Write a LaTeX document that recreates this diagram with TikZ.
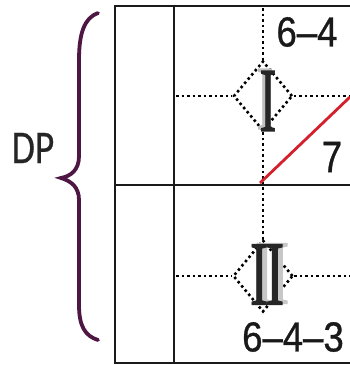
\documentclass[tikz,border=0pt]{standalone}
\usepackage{fontspec}
\setmainfont{Liberation Serif}
\newfontfamily\romanfont[FakeBold=1.2]{Liberation Serif}
\newfontfamily\numfont[FakeBold=0.8]{Liberation Sans}
\newfontfamily\dpfont[FakeBold=0.6]{Carlito}
\usetikzlibrary{shapes.geometric}
\definecolor{frameink}{HTML}{1A1A1A}
\definecolor{bracecol}{HTML}{4E1743}
\definecolor{redline}{HTML}{D4202C}
\tikzset{
  frameline/.style={draw=frameink, line width=2.4pt},
  dotline/.style={draw=black, line width=2.6pt, dash pattern=on 2.5pt off 3pt},
  diamondbox/.style={shape=diamond, draw=black, line width=2.6pt, dash pattern=on 2.5pt off 3pt, inner sep=0pt},
  numlabel/.style={inner sep=0pt, font=\numfont\fontsize{42}{42}\selectfont, text=black!90},
  romanlabel/.style={inner sep=0pt, font=\romanfont\fontsize{88}{88}\selectfont},
}
\begin{document}
\begin{tikzpicture}[x=1pt,y=-1pt]
\useasboundingbox[fill=white] (0,0) rectangle (350,365);
% frame coordinates
\coordinate (tl) at (115,6);
\coordinate (tm) at (174,6);
\coordinate (tr) at (350,6);
\coordinate (ml) at (115,185);
\coordinate (mr) at (350,185);
\coordinate (bl) at (115,363);
\coordinate (bm) at (174,363);
\coordinate (br) at (350,363);
\draw[frameline] (tr) -- (tl) -- (bl) -- (br);
\draw[frameline] (ml) -- (mr);
\draw[frameline] (tm) -- (bm);
% diamonds
\node[diamondbox, minimum width=59pt, minimum height=70pt] (d1) at (263,96) {};
\node[diamondbox, minimum width=60pt, minimum height=72pt] (d2) at (263,276) {};
% dotted guide lines
\coordinate (vt) at (263,8);
\coordinate (vm) at (263,184);
\coordinate (vm2) at (263,187);
\coordinate (h1l) at (176,96);
\coordinate (h1r) at (350,96);
\coordinate (h2l) at (176,276);
\coordinate (h2r) at (350,276);
\draw[dotline] (vt) -- (d1.north);
\draw[dotline] (d1.south) -- (vm);
\draw[dotline] (h1l) -- (d1.west);
\draw[dotline] (d1.east) -- (h1r);
\draw[dotline] (vm2) -- (d2.north);
\draw[dotline] (h2l) -- (d2.west);
\draw[dotline] (d2.east) -- (h2r);
% red line
\coordinate (rs) at (260,183);
\coordinate (re) at (350,97);
\draw[redline, line width=2.8pt] (rs) -- (re);
% roman numerals
\node[romanlabel, text=black!85] (r1) at (268,100)
  {\rlap{\hspace{-3pt}\raisebox{2pt}{\color{black!25}\scalebox{0.57}[1.04]{I}}}\scalebox{0.57}[1.04]{I}};
\node[romanlabel, text=black!85] (r2) at (267,274)
  {\rlap{\hspace{5pt}\raisebox{1pt}{\color{black!22}\scalebox{0.64}[1.04]{I\kern-5pt I}}}\scalebox{0.64}[1.04]{I\kern-5pt I}};
% numbers
\node[numlabel] (n64) at (307,32) {\scalebox{0.87}[1]{6–4}};
\node[numlabel] (n7) at (332,157) {\scalebox{0.87}[1.05]{7}};
\node[numlabel] (n643) at (293,337) {\scalebox{0.87}[1]{6–4–3}};
% brace and DP
\draw[bracecol, line width=3.8pt, line cap=round]
  (98,13) .. controls (84,18) and (79,34) .. (79,60) -- (79,156)
  .. controls (79,170) and (71,176) .. (61,178)
  .. controls (71,181) and (79,187) .. (79,200) -- (79,305)
  .. controls (79,326) and (85,336) .. (98,340);
\node[inner sep=0pt, font=\dpfont\fontsize{47}{47}\selectfont, text=black!85] (dp) at (33,148) {\scalebox{0.8}[1]{DP}};
\end{tikzpicture}
\end{document}
